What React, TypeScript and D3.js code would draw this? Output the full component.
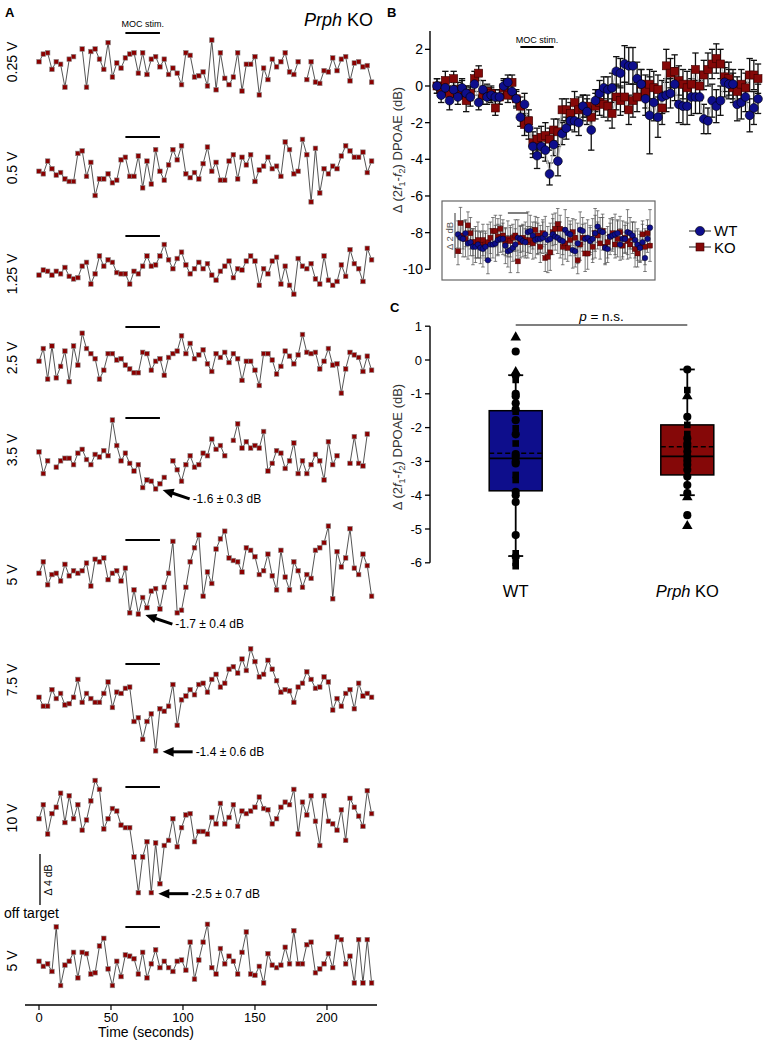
import * as d3 from 'd3';

const FONT = '"Liberation Sans", Arial, Helvetica, sans-serif';
const SAMPLE_S = 3; // seconds between DPOAE samples
const stimWindow = [60, 84];
const timeTicks = [0, 50, 100, 150, 200];

// ---- Panel A : single KO traces (dB re. pre-stim), one value per 3 s sample
const rowLabels = ['0.25 V', '0.5 V', '1.25 V', '2.5 V', '3.5 V', '5 V', '7.5 V', '10 V', '5 V'];

const trace025 = [0.1,0.7,0.8,-0.5,0.1,-0.1,-1.9,0.3,0.5,null,1.1,-1.9,0.9,1.1,0.3,-0.5,1.6,-1.1,0,-0.4,0.4,0.7,0.8,-0.8,0.8,-0.9,0.3,0.5,-0.3,0.3,-0.9,-0.4,-0.8,-1.7,0.8,0.6,-1.1,-1.0,-0.7,-1.8,1.8,-2.1,0.8,-1.2,-1.7,-1.1,0.8,-2.2,-0.1,-0.1,0.5,-2.5,-0.4,-1.3,0.3,-0.3,0.1,0.8,-0.7,-0.9,0.1,null,-1.3,0.1,-1.5,-1.6,-0.6,-0.7,0.4,-0.6,0.3,0.5,-1.4,0,0.1,-0.3,-0.2,-1.5];
const trace05 = [-0.1,-0.3,0.7,0.1,-0.4,-0.2,-0.7,-0.9,-0.9,1.3,1.5,-0.5,0.6,-2.0,-0.7,-0.7,-0.3,-1.0,-0.8,0.8,1.0,-0.5,-0.5,1.1,-1.4,0.7,-1.1,1.6,-0.1,-0.8,0.4,1.6,0.8,1.9,-0.3,-0.6,-0.2,-0.7,0.5,1.8,-0.1,0.6,-0.8,-0.8,0.7,1.2,-0.7,1.0,0.4,1.2,-0.9,0,0.3,1.0,0.1,0.3,-0.5,2.2,1.6,-0.3,-0.1,2.4,1.2,-2.5,1.7,-1.8,0.1,-0.3,0.3,0.1,1.1,1.9,1.5,1.0,1.0,1.4,-0.2,0.7];
const trace125 = [-0.4,0,-0.1,-0.4,-0.1,-0.3,0.2,-0.5,-0.7,-0.6,0.3,0.6,-1.1,-0.3,1.1,0.3,0.8,0.6,-0.2,-0.3,-0.3,-1.1,-0.1,-0.3,0.3,1.1,0.3,0.4,1.1,2.0,0.8,0.1,0.9,1.4,0.4,-0.3,0.1,0.6,0.1,0.5,-0.4,-0.8,-0.1,0.3,0.7,-0.6,0.1,0,0.7,1.1,0.7,-1.2,0.1,-0.3,0.7,1.0,-1.1,0.3,-1.2,-1.9,0.9,0.3,0.1,0.5,-0.7,-1.1,1.1,-0.8,-1.2,-0.9,0.4,-0.5,1.6,0.5,0.1,-0.9,1.7,0.8];
const trace25 = [-0.1,0.9,-1.5,1.1,-1.4,-0.5,0.7,-1.7,1.1,-0.4,2.1,0.9,0.5,0.1,-1.5,-0.8,0.5,0.5,0,0.1,-0.4,-0.7,-1.0,-1.0,0.6,0.5,-0.8,-0.1,0.1,-1.2,0.2,0.5,0.7,1.9,0.5,1.3,0.1,0.4,0.8,-0.3,-0.9,0.5,0.2,0.6,-0.2,0.5,0.1,-1.6,-0.1,-0.1,-0.8,-2.0,0.5,0.5,0,-1.1,-0.5,0.7,0.3,-0.3,0.4,2.0,0.6,0.5,0.6,-0.7,-0.1,0.9,-0.4,-0.3,-2.6,-0.7,0.6,0.4,0.2,-0.9,0.3,-0.8];
const trace35 = [0.4,-1.3,-0.3,null,-0.8,-0.3,-0.1,-0.1,-0.6,0.3,0.6,-0.2,-0.6,0.2,0,0.5,0.1,2.9,0.9,-0.3,0.3,-0.5,-1.1,-0.6,-2.4,-1.8,-1.9,-2.5,-2.1,-1.6,null,-0.3,-1.0,-1.9,-0.6,0.1,-0.8,-0.6,0.3,0.1,1.4,0.6,0.9,0.1,null,1.3,2.6,0.7,1.2,0.7,0.9,0.7,2.0,-1.1,-0.5,0.5,0.3,-0.9,-0.3,1.1,-1.3,-0.3,-1.3,-0.6,0.2,-0.3,-1.8,1.2,-0.6,0.1,null,null,-0.5,1.6,-0.5,-0.7,1.8,null];
const trace5 = [-0.1,0.8,-1.0,-0.2,-0.1,-0.7,0.6,-0.3,0.1,-0.1,0.1,0.7,-1.1,1.0,0.8,1.1,-0.6,-0.1,0.1,-0.7,0.3,-3.2,-1.4,-3.3,-2.0,-2.8,-1.5,-1.3,-2.9,-1.2,-0.1,2.4,-3.2,-3.0,-1.2,0.8,1.9,2.9,-1.9,0,-0.9,1.8,2.6,3.2,1.1,0.9,0.8,0,1.9,1.7,1.2,-0.2,0.1,1.4,-0.3,-1.4,1.7,-0.4,-1.4,0.8,0.1,-1.2,-0.2,-0.5,1.7,1.9,2.3,3.6,-2.1,1.6,0.4,1.1,3.4,0.3,-0.2,1.4,0.5,-1.9];
const trace75 = [-0.1,-0.8,-0.8,0.5,-0.2,0.2,-0.7,-0.6,-0.1,1.3,-0.5,0.2,-0.2,-0.5,-0.5,0.2,1.1,-0.9,0.3,0.2,0.6,0.7,-2.0,-1.7,-3.4,-2.0,-1.4,-4.3,-1.0,-1.2,-0.8,0.9,-2.3,-0.3,0,0.5,0.1,0.9,1.0,0.3,1.3,1.7,0.7,1.0,2.1,2.3,1.8,2.9,2.0,3.7,2.7,1.5,1.7,2.8,2.1,1.2,0.3,0.5,0.4,-0.5,0.7,1.0,1.9,1.3,0.6,0.7,1.5,1.1,-1.1,-0.2,-0.8,0.2,0.5,-1.0,1.0,0,0.2,-0.1];
const trace10 = [0.1,1.2,-1.1,0.5,1.0,2.1,-0.2,1.9,0.1,1.2,-0.8,0,1.5,3.1,2.4,-0.7,0.1,0.9,0.7,-0.4,-0.6,-0.6,-2.9,-5.7,-2.9,-1.7,-5.7,-1.8,-5.0,-2.0,-1.6,0.1,-2.1,-0.6,0.4,0.5,-1.7,-0.9,-0.9,-1.1,0.2,-0.3,1.3,-0.3,0.2,1.2,-0.5,0.7,0.5,0.7,1.0,1.8,0.9,0.8,-0.3,0.1,1.0,1.4,1.2,2.4,-1.1,1.4,0.4,1.9,-0.1,-2.0,1.9,-0.1,-0.3,-0.8,0.8,-1.6,1.7,1.0,0.3,-0.5,2.3,0.5];
const traceOff5 = [-0.1,-0.5,-0.3,-0.9,2.6,-2.0,-0.4,-0.1,0.6,-1.4,0.6,0.5,-1.1,-1.0,1.1,1.7,-0.7,-2.0,-0.1,-1.3,0.4,0.3,0.1,-1.1,0.6,-1.4,-0.3,0.8,-0.6,-0.1,-0.6,-0.9,-0.1,0,-0.8,1.4,-1.5,0,1.4,2.8,-0.6,-1.1,0.9,-0.3,0.3,-0.1,-1.1,0.6,2.2,-1.1,-1.2,-0.5,-1.8,0.5,-0.4,-0.6,-0.4,1.0,-0.3,2.3,-0.3,-0.3,1.2,1.4,-1.0,-0.7,-0.3,0.5,-0.6,1.8,1.6,-0.3,0.3,-1.8,1.6,-1.8,1.6,-1.8];
const traces: (number | null)[][] = [trace025, trace05, trace125, trace25, trace35, trace5, trace75, trace10, traceOff5];

// row, sample index the arrow points at, label
const arrowRows = [4, 5, 6, 7];
const arrowIdx = [27, 23, 27, 26];
const arrowText = ['-1.6 ± 0.3 dB', '-1.7 ± 0.4 dB', '-1.4 ± 0.6 dB', '-2.5 ± 0.7 dB'];

// ---- Panel B : mean ± SEM
const wtMean = [0,-0.5,-0.1,-0.8,-0.2,-0.6,-0.1,-0.4,-0.6,0.1,-0.9,-0.2,-0.6,-0.5,-0.6,-0.6,0,0.2,-0.3,-0.7,-1.7,-1.0,-2.3,-3.3,-3.8,-3.3,-3.5,-4.8,-3.2,-4.1,-2.6,-2.3,-1.9,-1.9,-2.0,-1.1,-1.4,-2.4,-0.8,-0.4,-0.1,-0.2,-0.1,0.8,0.7,1.2,1.1,1.1,0.4,0.1,-0.7,-1.6,-0.9,-1.7,-0.6,-0.5,-0.4,0.1,-1.0,-1.1,-1.1,-0.6,-0.6,-0.6,-1.8,-1.9,-0.8,-1.1,-0.8,0.2,0.1,0.1,-1.0,-0.9,-0.6,-1.6,-1.2,-0.7];
const wtSem = [0.4,0.4,0.4,0.5,0.4,0.4,0.5,0.4,0.5,0.4,0.4,0.5,0.4,0.4,0.4,0.4,0.4,0.4,0.4,0.5,0.5,0.6,0.6,0.6,0.7,0.6,0.6,0.6,0.6,0.8,0.6,0.6,0.5,0.6,0.7,0.6,0.7,1.1,0.6,0.7,0.6,0.7,0.8,0.8,0.8,1.0,1.0,1.0,0.9,0.8,0.9,2.1,1.0,1.1,0.9,0.9,0.8,0.9,1.0,1.0,1.0,1.0,0.9,0.9,0.8,0.7,0.9,0.9,0.8,0.8,0.8,0.8,0.9,0.9,0.8,0.9,0.9,0.8];
const koMean = [0,-0.2,0.3,-0.4,0.4,-0.2,-0.2,-0.8,-0.4,0.4,0.7,-0.5,-0.3,-0.4,-1.2,-0.6,-0.1,-0.5,0.2,-0.7,-1.1,-2.1,-1.9,-3.1,-2.9,-2.8,-2.7,-2.9,-2.4,-2.5,-1.3,-1.3,-1.5,-0.9,-1.3,-1.2,-1.1,-1.7,-1.1,-0.9,-1.0,-1.1,-1.5,-0.6,-0.8,-0.6,-1.3,-0.8,-0.6,0.1,-0.3,0.1,-0.1,-0.2,-1.2,1.1,0.7,0.8,0.3,0.1,-0.1,0.1,0.9,0,0.6,0.9,1.2,1.5,1.2,0.5,0.4,-0.1,-0.3,0.1,-0.1,0.6,0.6,0.4];
const koSem = [0.4,0.4,0.5,0.4,0.4,0.4,0.5,0.6,0.4,0.4,0.4,0.5,0.4,0.4,0.4,0.4,0.4,0.4,0.4,0.4,0.5,0.6,0.6,0.6,0.6,0.6,0.7,0.6,0.6,0.7,0.6,0.6,0.6,0.6,0.7,0.7,0.6,0.6,0.7,0.7,0.7,0.8,0.8,0.7,0.8,0.8,0.8,0.9,0.8,0.8,0.9,0.8,0.9,0.8,0.9,0.9,0.8,0.9,0.8,0.8,0.9,0.8,0.9,0.8,0.8,0.9,0.8,0.8,0.8,0.8,0.9,0.8,0.8,0.8,0.8,0.9,0.8,0.8];
const bTicks = [2, 0, -2, -4, -6, -8, -10];

// inset (off-target control)
const insetWt = [0.25,0.1,0.05,0.3,-0.15,-0.1,-0.3,-0.3,-0.2,-0.35,-0.4,-0.3,-0.9,-0.2,-0.2,-0.15,0,0.05,0.05,-0.25,-0.5,-0.45,-0.35,-0.2,0.1,0.05,-0.05,-0.1,0.35,0.4,0.2,0,0.05,0.05,0.1,0.25,0,0.05,0.25,0.15,0.1,0,-0.05,0.45,0.3,0.25,-0.45,-0.5,-0.15,0.45,0.4,0.05,0.1,-0.05,0.05,0.3,0.6,0.4,0.35,-0.35,-0.4,0.15,0.2,0.25,0.3,-0.2,0.05,0.05,0.35,0.3,0.2,0,-0.2,-0.35,-0.1,-0.8,0.05,0.55];
const insetWtSem = [0.6,0.7,0.8,0.6,0.7,0.6,0.8,0.7,0.6,0.7,0.8,0.6,0.6,0.7,0.6,0.8,0.7,0.6,0.7,0.8,0.7,1.0,0.6,0.7,0.8,0.6,0.7,0.6,0.9,0.7,0.6,0.8,0.7,0.6,0.7,0.8,0.6,0.7,0.9,0.6,0.7,0.8,0.6,0.9,0.7,0.6,0.8,0.7,0.9,0.8,0.6,0.7,0.8,0.6,0.9,1.1,0.7,0.6,0.8,0.7,0.6,0.8,0.7,0.9,0.6,0.7,0.8,0.6,1.0,0.7,0.6,0.8,0.7,0.6,0.8,0.6,0.6,0.8];
const insetKo = [-0.5,0.75,0.2,0.05,0.65,0.3,-0.1,-0.1,0,-0.2,0,-0.2,-0.1,0.1,0.4,0.4,0.15,0.5,0.2,-0.1,0.05,-0.05,0.1,0.2,-0.95,-0.1,0.1,0,-0.1,0,-0.15,0.45,0.2,-0.3,0.3,-0.8,-0.75,-0.55,0.35,0.5,0.7,0.5,-0.3,-0.15,-0.35,0,0.35,0.1,-0.9,-0.2,0.1,-0.6,-0.6,0.05,-0.3,0.3,0.2,-0.15,0.4,-0.3,-0.1,0.15,0.3,-0.2,0.05,0.35,-0.25,0.1,-0.05,-0.2,0.1,-0.4,-0.6,-0.3,0.25,-0.3,0.3,-0.25];
const insetKoSem = [0.6,0.7,0.6,0.8,0.6,0.7,0.6,0.7,0.8,0.6,0.7,0.6,0.8,0.7,0.6,0.7,0.8,0.6,0.7,0.6,0.8,0.7,0.6,0.7,0.5,0.7,0.6,0.8,0.7,0.6,0.7,0.6,0.8,0.7,0.6,0.6,0.7,0.8,0.6,0.7,0.7,0.6,0.8,0.7,0.6,0.7,0.6,0.8,0.6,0.7,0.6,0.8,0.7,0.6,0.7,0.8,0.6,0.7,0.6,0.8,0.7,0.6,0.7,0.6,0.8,0.7,0.6,0.7,0.8,0.6,0.7,0.8,0.6,0.7,0.6,0.8,0.6,0.7];

// ---- Panel C : box plots
const groups = ['WT', 'Prph KO'];
const boxQ1 = [-3.87, -3.4];
const boxQ3 = [-1.5, -1.92];
const boxMedian = [-2.91, -2.85];
const boxMean = [-2.76, -2.57];
const whiskerLow = [-5.8, -4.0];
const whiskerHigh = [-0.45, -0.28];
const cTicks = [1, 0, -1, -2, -3, -4, -5, -6];
const wtPoints = [0.67,0.25,-0.36,-0.45,-0.59,-1.0,-1.07,-1.28,-1.46,-1.53,-1.78,-2.02,-2.2,-2.47,-2.78,-2.86,-3.0,-3.06,-3.4,-3.55,-3.9,-4.0,-4.2,-5.18,-5.72,-5.82,-6.0,-6.1];
const wtShapes = ['tri','circle','tri','circle','square','circle','circle','circle','circle','square','circle','square','circle','square','circle','circle','circle','circle','square','square','circle','circle','circle','circle','square','circle','square','square'];
const koPoints = [-0.28,-0.89,-1.07,-1.68,-1.92,-2.19,-2.32,-2.47,-2.56,-2.71,-2.86,-2.98,-3.1,-3.25,-3.45,-3.7,-3.94,-4.06,-4.59,-4.91];
const koShapes = ['circle','square','tri','circle','square','square','circle','circle','circle','circle','circle','circle','circle','circle','circle','circle','circle','tri','circle','tri'];

const NAVY = '#0e0e8c';
const MAROON = '#850808';

// layout of panel A rows (pixel centre of each trace, stim bar, label)
const ROW_CENTER = [63, 170, 270, 360, 457, 572, 696, 820, 960];
const ROW_BAR_Y = [33, 137, 236, 327, 418, 540, 664, 787, 927];
const ROW_LABEL_Y = [62, 168, 274, 358, 450, 575, 680, 818, 961];
const DB_PX = 12.75;

function DpoaeLabel({ x, y }: { x: number; y: number }) {
  return (
    <text transform={`translate(${x},${y}) rotate(-90)`} textAnchor="middle" fontSize={13} fill="#333">
      Δ (2<tspan fontStyle="italic">f</tspan><tspan fontSize={9} dy={3}>1</tspan>
      <tspan dy={-3}>-</tspan><tspan fontStyle="italic">f</tspan><tspan fontSize={9} dy={3}>2</tspan>
      <tspan dy={-3}>) DPOAE (dB)</tspan>
    </text>
  );
}

function Arrow({ tx, ty, dx, dy }: { tx: number; ty: number; dx: number; dy: number }) {
  const len = Math.hypot(dx, dy);
  const ux = dx / len, uy = dy / len;
  const hl = 11, hw = 4.8;
  const bx = tx + ux * hl, by = ty + uy * hl;
  const pts = [[tx, ty], [bx - uy * hw, by + ux * hw], [bx + uy * hw, by - ux * hw]];
  return (
    <g>
      <line x1={bx - ux} y1={by - uy} x2={tx + dx} y2={ty + dy} stroke="#000" strokeWidth={3} />
      <polygon points={pts.map(p => p.join(',')).join(' ')} fill="#000" />
    </g>
  );
}

function PanelA() {
  const x = d3.scaleLinear().domain([0, 231]).range([39, 371.6]);
  const axisY = 1005;
  return (
    <g>
      <text x={5} y={17} fontSize={13} fontWeight="bold">A</text>
      <text x={373} y={26} fontSize={18} textAnchor="end"><tspan fontStyle="italic">Prph</tspan> KO</text>
      <text x={(x(stimWindow[0]) + x(stimWindow[1])) / 2} y={27} fontSize={9} textAnchor="middle">MOC stim.</text>
      {traces.map((vals, r) => {
        const y = d3.scaleLinear().domain([0, 1]).range([ROW_CENTER[r], ROW_CENTER[r] - DB_PX]);
        const line = d3.line<number | null>()
          .defined(v => v != null)
          .x((_, i) => x(i * SAMPLE_S))
          .y(v => y(v as number));
        return (
          <g key={r}>
            <line x1={x(stimWindow[0])} x2={x(stimWindow[1])} y1={ROW_BAR_Y[r]} y2={ROW_BAR_Y[r]} stroke="#000" strokeWidth={2} />
            <path d={line(vals) || ''} fill="none" stroke="#2a2a2a" strokeWidth={0.8} />
            {vals.map((v, i) => v == null ? null : (
              <rect key={i} x={x(i * SAMPLE_S) - 2.3} y={y(v) - 2.3} width={4.6} height={4.6}
                fill="#8b0000" stroke="#8a8a8a" strokeWidth={0.6} />
            ))}
            <text transform={`translate(17,${ROW_LABEL_Y[r]}) rotate(-90)`} textAnchor="middle" fontSize={14}>{rowLabels[r]}</text>
          </g>
        );
      })}
      <text x={4} y={918} fontSize={14}>off target</text>
      <line x1={40} x2={40} y1={854} y2={854 + 4 * DB_PX} stroke="#000" strokeWidth={1.3} />
      <text transform={`translate(52,880) rotate(-90)`} textAnchor="middle" fontSize={10.5}>Δ 4 dB</text>
      {arrowRows.map((r, k) => {
        const y = d3.scaleLinear().domain([0, 1]).range([ROW_CENTER[r], ROW_CENTER[r] - DB_PX]);
        const v = traces[r][arrowIdx[k]] as number;
        const tx = x(arrowIdx[k] * SAMPLE_S) + 7;
        const ty = y(v) + 1;
        const slanted = k < 2;
        const dx = slanted ? 27 : 30;
        const dy = slanted ? 9 : 0;
        return (
          <g key={k}>
            <Arrow tx={tx} ty={ty} dx={dx} dy={dy} />
            <text x={tx + dx + 3} y={ty + dy + 4} fontSize={12}>{arrowText[k]}</text>
          </g>
        );
      })}
      <line x1={25} x2={377} y1={axisY} y2={axisY} stroke="#000" strokeWidth={1.3} />
      {timeTicks.map(t => (
        <g key={t}>
          <line x1={x(t)} x2={x(t)} y1={axisY} y2={axisY + 5} stroke="#000" strokeWidth={1.2} />
          <text x={x(t)} y={axisY + 17} fontSize={13} textAnchor="middle">{t}</text>
        </g>
      ))}
      <text x={146} y={1037} fontSize={14} textAnchor="middle">Time (seconds)</text>
    </g>
  );
}

function PanelB() {
  const x = d3.scaleLinear().domain([0, 231]).range([437, 758]);
  const y = d3.scaleLinear().domain([-10, 3]).range([269.3, 31]);
  const xi = d3.scaleLinear().domain([0, 231]).range([458, 650]);
  const yi = d3.scaleLinear().domain([-1, 1]).range([262.5, 217.5]);
  const line = (xs: d3.ScaleLinear<number, number>, ys: d3.ScaleLinear<number, number>) =>
    d3.line<number>().x((_, i) => xs(i * SAMPLE_S)).y(v => ys(v));

  const errBars = (m: number[], s: number[], xs: any, ys: any, cap: number, col: string, w: number) =>
    m.map((v, i) => {
      const cx = xs(i * SAMPLE_S);
      return (
        <g key={i} stroke={col} strokeWidth={w}>
          <line x1={cx} x2={cx} y1={ys(v - s[i])} y2={ys(v + s[i])} />
          <line x1={cx - cap} x2={cx + cap} y1={ys(v - s[i])} y2={ys(v - s[i])} />
          <line x1={cx - cap} x2={cx + cap} y1={ys(v + s[i])} y2={ys(v + s[i])} />
        </g>
      );
    });

  return (
    <g>
      <text x={387} y={17} fontSize={13} fontWeight="bold">B</text>
      <line x1={430} x2={430} y1={y(3)} y2={y(-10)} stroke="#000" strokeWidth={1.4} />
      {bTicks.map(t => (
        <g key={t}>
          <line x1={425} x2={430} y1={y(t)} y2={y(t)} stroke="#000" strokeWidth={1.3} />
          <text x={423} y={y(t) + 5} fontSize={14} textAnchor="end">{t}</text>
        </g>
      ))}
      <DpoaeLabel x={402} y={150} />
      <text x={(x(stimWindow[0]) + x(stimWindow[1])) / 2} y={43} fontSize={9} textAnchor="middle">MOC stim.</text>
      <line x1={x(stimWindow[0])} x2={x(stimWindow[1])} y1={47} y2={47} stroke="#000" strokeWidth={2} />

      {errBars(koMean, koSem, x, y, 3.2, '#111', 1.3)}
      {errBars(wtMean, wtSem, x, y, 3.2, '#111', 1.3)}
      <path d={line(x, y)(koMean) || ''} fill="none" stroke="#bdbdbd" strokeWidth={1.2} />
      <path d={line(x, y)(wtMean) || ''} fill="none" stroke="#bdbdbd" strokeWidth={1.2} />
      {koMean.map((v, i) => (
        <rect key={i} x={x(i * SAMPLE_S) - 4} y={y(v) - 4} width={8} height={8} fill={MAROON} stroke="#3a0000" strokeWidth={0.6} />
      ))}
      {wtMean.map((v, i) => (
        <circle key={i} cx={x(i * SAMPLE_S)} cy={y(v)} r={4.4} fill={NAVY} stroke="#000" strokeWidth={0.6} />
      ))}

      {/* inset */}
      <rect x={442} y={201} width={213} height={79} fill="none" stroke="#666" strokeWidth={1.2} />
      <line x1={455} x2={455} y1={213} y2={213 + 2 * 22.5} stroke="#555" strokeWidth={1.2} />
      <text transform={`translate(453,236) rotate(-90)`} textAnchor="middle" fontSize={9.5} fill="#555">Δ 2 dB</text>
      <line x1={xi(stimWindow[0])} x2={xi(stimWindow[1])} y1={213} y2={213} stroke="#555" strokeWidth={1.5} />
      {errBars(insetKo, insetKoSem, xi, yi, 1.8, '#4a4a4a', 0.7)}
      {errBars(insetWt, insetWtSem, xi, yi, 1.8, '#4a4a4a', 0.7)}
      <path d={line(xi, yi)(insetKo) || ''} fill="none" stroke="#aaa" strokeWidth={0.8} />
      <path d={line(xi, yi)(insetWt) || ''} fill="none" stroke="#aaa" strokeWidth={0.8} />
      {insetKo.map((v, i) => (
        <rect key={i} x={xi(i * SAMPLE_S) - 2.5} y={yi(v) - 2.5} width={5} height={5} fill={MAROON} stroke="#3a0000" strokeWidth={0.4} />
      ))}
      {insetWt.map((v, i) => (
        <circle key={i} cx={xi(i * SAMPLE_S)} cy={yi(v)} r={2.8} fill={NAVY} stroke="#000" strokeWidth={0.4} />
      ))}

      {/* legend */}
      <line x1={689} x2={711} y1={231} y2={231} stroke="#444" strokeWidth={1.2} />
      <circle cx={700} cy={231} r={4.6} fill={NAVY} stroke="#000" strokeWidth={0.6} />
      <text x={714} y={236} fontSize={15}>WT</text>
      <line x1={689} x2={711} y1={247} y2={247} stroke="#444" strokeWidth={1.2} />
      <rect x={696} y={243} width={8} height={8} fill={MAROON} stroke="#3a0000" strokeWidth={0.6} />
      <text x={714} y={253} fontSize={15}>KO</text>
    </g>
  );
}

function Marker({ shape, cx, cy }: { shape: string; cx: number; cy: number }) {
  const type = shape === 'tri' ? d3.symbolTriangle : shape === 'square' ? d3.symbolSquare : d3.symbolCircle;
  const size = shape === 'tri' ? 48 : shape === 'square' ? 44 : 52;
  return <path d={d3.symbol().type(type).size(size)() || ''} transform={`translate(${cx},${cy})`} fill="#000" />;
}

function PanelC() {
  const y = d3.scaleLinear().domain([-6, 1]).range([562.8, 326.2]);
  const x = d3.scalePoint<string>().domain(groups).range([515.7, 687.3]);
  const colors = [NAVY, MAROON];
  const pts = [wtPoints, koPoints];
  const shapes = [wtShapes, koShapes];
  const boxW = 53, capW = 15;
  return (
    <g>
      <text x={390} y={312} fontSize={13} fontWeight="bold">C</text>
      <line x1={430} x2={430} y1={y(1)} y2={y(-6)} stroke="#000" strokeWidth={1.4} />
      {cTicks.map(t => (
        <g key={t}>
          <line x1={425} x2={430} y1={y(t)} y2={y(t)} stroke="#000" strokeWidth={1.3} />
          <text x={422} y={y(t) + 4.5} fontSize={13} textAnchor="end">{t}</text>
        </g>
      ))}
      <DpoaeLabel x={402} y={447} />
      <line x1={x('WT')} x2={x('Prph KO')} y1={325} y2={325} stroke="#000" strokeWidth={1.2} />
      <text x={((x('WT') as number) + (x('Prph KO') as number)) / 2} y={321} fontSize={13.5} textAnchor="middle">
        <tspan fontStyle="italic">p</tspan> = n.s.
      </text>
      {groups.map((g, k) => {
        const cx = x(g) as number;
        return (
          <g key={g}>
            <line x1={cx} x2={cx} y1={y(whiskerHigh[k])} y2={y(whiskerLow[k])} stroke="#000" strokeWidth={1.8} />
            <line x1={cx - capW / 2} x2={cx + capW / 2} y1={y(whiskerHigh[k])} y2={y(whiskerHigh[k])} stroke="#000" strokeWidth={1.8} />
            <line x1={cx - capW / 2} x2={cx + capW / 2} y1={y(whiskerLow[k])} y2={y(whiskerLow[k])} stroke="#000" strokeWidth={1.8} />
            <rect x={cx - boxW / 2} y={y(boxQ3[k])} width={boxW} height={y(boxQ1[k]) - y(boxQ3[k])}
              fill={colors[k]} stroke="#000" strokeWidth={1.5} />
            <line x1={cx - boxW / 2} x2={cx + boxW / 2} y1={y(boxMedian[k])} y2={y(boxMedian[k])} stroke="#000" strokeWidth={1.8} />
            <line x1={cx - boxW / 2} x2={cx + boxW / 2} y1={y(boxMean[k])} y2={y(boxMean[k])} stroke="#000" strokeWidth={1.5} strokeDasharray="5,3" />
            {pts[k].map((v, i) => <Marker key={i} shape={shapes[k][i]} cx={cx} cy={y(v)} />)}
            <text x={cx} y={597} fontSize={16.5} textAnchor="middle">
              {g === 'WT' ? 'WT' : <><tspan fontStyle="italic">Prph</tspan> KO</>}
            </text>
          </g>
        );
      })}
    </g>
  );
}

export default function App() {
  return (
    <svg width={767} height={1045} style={{ position: 'absolute', left: 0, top: 0, background: '#fff' }} fontFamily={FONT}>
      <PanelA />
      <PanelB />
      <PanelC />
    </svg>
  );
}
